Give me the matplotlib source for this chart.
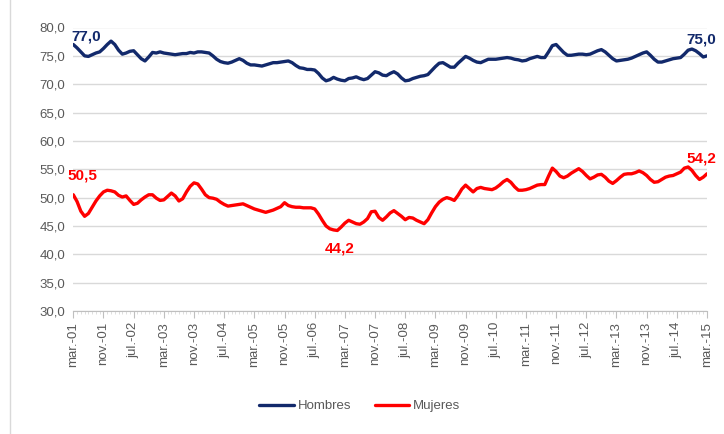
import matplotlib
matplotlib.use("Agg")
import matplotlib.pyplot as plt
from matplotlib.lines import Line2D
import numpy as np

# Monthly series, mar-2001 .. mar-2015
hombres = [
    77.0, 76.4, 75.7, 75.0, 74.9, 75.2, 75.5, 75.7, 76.3, 77.0, 77.6, 77.0, 76.0, 75.3, 75.5, 75.8,
    75.9, 75.2, 74.5, 74.1, 74.8, 75.6, 75.5, 75.7, 75.5, 75.4, 75.3, 75.2, 75.3, 75.4, 75.4, 75.6,
    75.5, 75.7, 75.7, 75.6, 75.5, 75.0, 74.4, 74.0, 73.8, 73.7, 73.9, 74.2, 74.5, 74.2, 73.7, 73.4,
    73.4, 73.3, 73.2, 73.4, 73.6, 73.8, 73.8, 73.9, 74.0, 74.1, 73.8, 73.3, 72.9, 72.8, 72.6, 72.6,
    72.5, 71.9, 71.1, 70.6, 70.8, 71.2, 70.9, 70.7, 70.6, 71.0, 71.1, 71.3, 71.0, 70.8, 71.0, 71.6,
    72.2, 72.0, 71.6, 71.5, 71.9, 72.2, 71.8, 71.1, 70.6, 70.7, 71.0, 71.2, 71.4, 71.5, 71.7, 72.4,
    73.1, 73.7, 73.8, 73.4, 73.0, 73.0, 73.7, 74.3, 74.9, 74.6, 74.2, 73.9, 73.8, 74.1, 74.4, 74.4,
    74.4, 74.5, 74.6, 74.7, 74.6, 74.4, 74.3, 74.1, 74.2, 74.5, 74.7, 74.9, 74.7, 74.7, 75.7, 76.8,
    77.0, 76.3, 75.6, 75.1, 75.1, 75.2, 75.3, 75.3, 75.2, 75.3, 75.6, 75.9, 76.1, 75.7, 75.1, 74.5,
    74.1, 74.2, 74.3, 74.4, 74.6, 74.9, 75.2, 75.5, 75.7, 75.1, 74.4, 73.9, 73.9, 74.1, 74.3, 74.5,
    74.6, 74.7, 75.3, 76.0, 76.2, 75.9, 75.4, 74.8, 75.0,
]
mujeres = [
    50.5, 49.3, 47.6, 46.7, 47.2, 48.3, 49.4, 50.3, 51.0, 51.3, 51.2, 51.0, 50.4, 50.1, 50.3, 49.5,
    48.8, 49.0, 49.6, 50.1, 50.5, 50.5, 49.9, 49.5, 49.6, 50.2, 50.8, 50.3, 49.4, 49.8, 51.0, 52.0,
    52.6, 52.4, 51.5, 50.5, 50.0, 49.9, 49.7, 49.2, 48.8, 48.5, 48.6, 48.7, 48.8, 48.9, 48.6, 48.3,
    48.0, 47.8, 47.6, 47.4, 47.6, 47.8, 48.1, 48.4, 49.1, 48.6, 48.4, 48.3, 48.3, 48.2, 48.2, 48.2,
    48.0, 47.1, 46.0, 45.0, 44.5, 44.3, 44.2, 44.8, 45.5, 46.0, 45.7, 45.4, 45.3, 45.7, 46.3, 47.5,
    47.6, 46.5, 46.0, 46.6, 47.3, 47.7, 47.2, 46.7, 46.1, 46.5, 46.4, 46.0, 45.7, 45.4, 46.1, 47.3,
    48.4, 49.2, 49.7, 50.0, 49.8, 49.5, 50.4, 51.5, 52.2, 51.6, 51.0, 51.6, 51.8, 51.6, 51.5, 51.4,
    51.7, 52.2, 52.8, 53.2, 52.7, 51.9, 51.3, 51.3, 51.4, 51.6, 51.9, 52.2, 52.3, 52.3, 53.8, 55.2,
    54.6, 53.8, 53.5, 53.8, 54.3, 54.7, 55.1, 54.6, 53.9, 53.3, 53.6, 54.0, 54.1, 53.6, 52.9, 52.5,
    53.0, 53.6, 54.1, 54.2, 54.2, 54.4, 54.7, 54.4, 53.9, 53.2, 52.7, 52.8, 53.2, 53.6, 53.8, 53.9,
    54.2, 54.5, 55.2, 55.4, 54.8, 53.9, 53.2, 53.6, 54.2,
]
tick_labels = ["mar.-01", "nov.-01", "jul.-02", "mar.-03", "nov.-03", "jul.-04", "mar.-05",
               "nov.-05", "jul.-06", "mar.-07", "nov.-07", "jul.-08", "mar.-09", "nov.-09",
               "jul.-10", "mar.-11", "nov.-11", "jul.-12", "mar.-13", "nov.-13", "jul.-14",
               "mar.-15"]
series_names = ["Hombres", "Mujeres"]
y_ticks = [30, 35, 40, 45, 50, 55, 60, 65, 70, 75, 80]
# (series, month index) for data labels
label_points = [("h", 0), ("h", 168), ("m", 0), ("m", 70), ("m", 168)]

NAVY = "#12296B"
RED = "#FF0000"
GRAY = "#595959"

plt.rcParams["font.family"] = ["Liberation Sans", "DejaVu Sans"]

fig = plt.figure(figsize=(7.24, 4.34), dpi=100)
ax = fig.add_axes([73.3 / 724, 1 - 311 / 434, (707 - 73.3) / 724, (311 - 27.5) / 434])

x = np.arange(len(hombres))
ax.plot(x, hombres, color=NAVY, lw=2.4, solid_capstyle="round", label=series_names[0], zorder=3)
ax.plot(x, mujeres, color=RED, lw=2.4, solid_capstyle="round", label=series_names[1], zorder=3)

ax.set_xlim(0, 168)
ax.set_ylim(30, 80)
ax.set_yticks(y_ticks)
ax.set_yticklabels([f"{v:.1f}".replace(".", ",") for v in y_ticks], color=GRAY, fontsize=9.5)
ax.yaxis.grid(True, color="#D9D9D9", lw=1)
ax.set_axisbelow(True)
ax.tick_params(axis="y", length=0, pad=6)

xt = np.arange(0, 169, 8)
ax.set_xticks(xt)
ax.set_xticklabels(tick_labels, rotation=90, color=GRAY, fontsize=9.5)
ax.set_xticks(np.arange(0, 169, 1), minor=True)
ax.tick_params(axis="x", which="major", length=5, color="#BFBFBF", pad=3)
ax.tick_params(axis="x", which="minor", length=2, color="#D9D9D9")

for s in ["top", "right", "left"]:
    ax.spines[s].set_visible(False)
ax.spines["bottom"].set_color("#BFBFBF")

series = {"h": (hombres, NAVY), "m": (mujeres, RED)}
offsets = {("h", 0): (9, 5.5), ("h", 168): (-4, 11.5), ("m", 0): (6.5, 14),
           ("m", 70): (1.5, -13), ("m", 168): (-4, 11)}
for key, idx in label_points:
    vals, col = series[key]
    ax.annotate(f"{vals[idx]:.1f}".replace(".", ","), xy=(idx, vals[idx]),
                xytext=offsets[(key, idx)], textcoords="offset points",
                ha="center", va="center", color=col, fontsize=11, fontweight="bold",
                annotation_clip=False, zorder=5)

fig.legend(handles=ax.get_lines(), labels=series_names, loc="center",
           bbox_to_anchor=(0.497, 1 - 406 / 434), ncol=2, frameon=False,
           fontsize=9.5, labelcolor=GRAY, handlelength=2.6, handletextpad=0.3,
           columnspacing=1.8)

fig.add_artist(Line2D([10 / 724, 10 / 724], [0, 1], transform=fig.transFigure,
                      color="#D9D9D9", lw=1))

fig.savefig("out.png", dpi=100)
